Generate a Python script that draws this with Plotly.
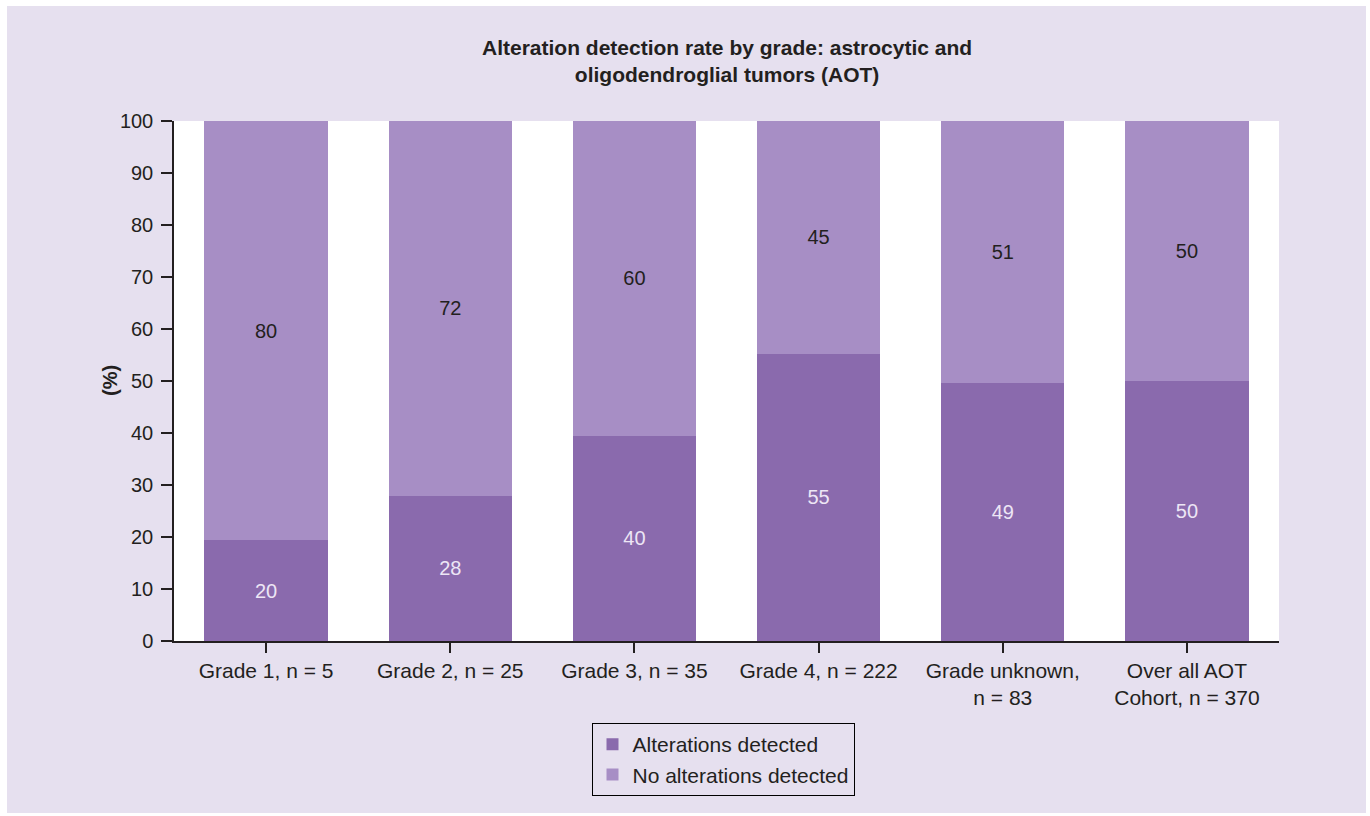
import plotly.graph_objects as go

categories = ["Grade 1, n = 5", "Grade 2, n = 25", "Grade 3, n = 35", "Grade 4, n = 222",
              "Grade unknown,<br>n = 83", "Over all AOT<br>Cohort, n = 370"]
# bar heights
detected = [19.4, 27.9, 39.5, 55.2, 49.6, 50.0]
not_detected = [80.6, 72.1, 60.5, 44.8, 50.4, 50.0]
# printed labels
detected_labels = ["20", "28", "40", "55", "49", "50"]
not_detected_labels = ["80", "72", "60", "45", "51", "50"]

DARK = "#8A6AAD"
LIGHT = "#A78EC5"
BG = "#E6E0EF"
TXT = "#231F20"
FONT = "Liberation Sans, Arial, sans-serif"

fig = go.Figure()
fig.add_trace(go.Bar(x=categories, y=detected, name="Alterations detected",
                     marker=dict(color=DARK, line=dict(width=0)),
                     text=detected_labels, textposition="inside",
                     insidetextanchor="middle", hoverinfo="x+y",
                     textfont=dict(color="#EDE6F5", size=20, family=FONT), width=0.67))
fig.add_trace(go.Bar(x=categories, y=not_detected, name="No alterations detected",
                     marker=dict(color=LIGHT, line=dict(width=0)),
                     text=not_detected_labels, textposition="inside",
                     insidetextanchor="middle", hoverinfo="x+y",
                     textfont=dict(color=TXT, size=20, family=FONT), width=0.67))

L, R, T, B = 174, 91, 121, 175
W, H = 1370, 816
pw, ph = W - L - R, H - T - B

def px_x(x):
    return (x - L) / pw

def px_y(y):
    return (H - B - y) / ph

fig.update_layout(
    width=W, height=H,
    margin=dict(l=L, r=R, t=T, b=B),
    paper_bgcolor="white",
    plot_bgcolor="rgba(0,0,0,0)",
    barmode="stack",
    font=dict(family=FONT, color=TXT, size=20),
    showlegend=True,
    legend=dict(x=px_x(723), xanchor="center", y=px_y(723), yanchor="top",
                bordercolor="black", borderwidth=1, bgcolor="rgba(0,0,0,0)",
                traceorder="normal", font=dict(size=21, color=TXT, family=FONT),
                itemwidth=30),
    uniformtext=dict(mode=False),
    shapes=[
        dict(type="rect", xref="paper", yref="paper", x0=px_x(7), x1=px_x(1366),
             y0=px_y(813), y1=px_y(6), fillcolor=BG, line=dict(width=0), layer="below"),
        dict(type="rect", xref="paper", yref="paper", x0=0, x1=1, y0=0, y1=1,
             fillcolor="white", line=dict(width=0), layer="below"),
    ],
    annotations=[
        dict(text="<b>Alteration detection rate by grade: astrocytic and<br>oligodendroglial tumors (AOT)</b>",
             xref="paper", yref="paper", x=0.5, y=px_y(61), xanchor="center", yanchor="middle",
             showarrow=False, font=dict(size=21, color=TXT, family=FONT)),
        dict(text="<b>(%)</b>", xref="paper", yref="paper", x=px_x(110), y=px_y(381),
             xanchor="center", yanchor="middle", textangle=-90, showarrow=False,
             font=dict(size=20, color=TXT, family=FONT)),
    ],
)
fig.update_xaxes(range=[-0.5, 5.5], showline=True, linecolor=TXT, linewidth=1.5,
                 ticks="outside", ticklen=10, tickcolor=TXT, tickwidth=1.5,
                 tickfont=dict(size=21, color=TXT, family=FONT), showgrid=False,
                 zeroline=False)
fig.update_yaxes(range=[0, 100], tickvals=list(range(0, 101, 10)), showline=True,
                 linecolor=TXT, linewidth=1.5, ticks="outside", ticklen=11, tickcolor=TXT,
                 tickwidth=1.5, tickfont=dict(size=20, color=TXT, family=FONT),
                 showgrid=False, zeroline=False, ticklabelstandoff=4)

fig.write_html("out.html")
